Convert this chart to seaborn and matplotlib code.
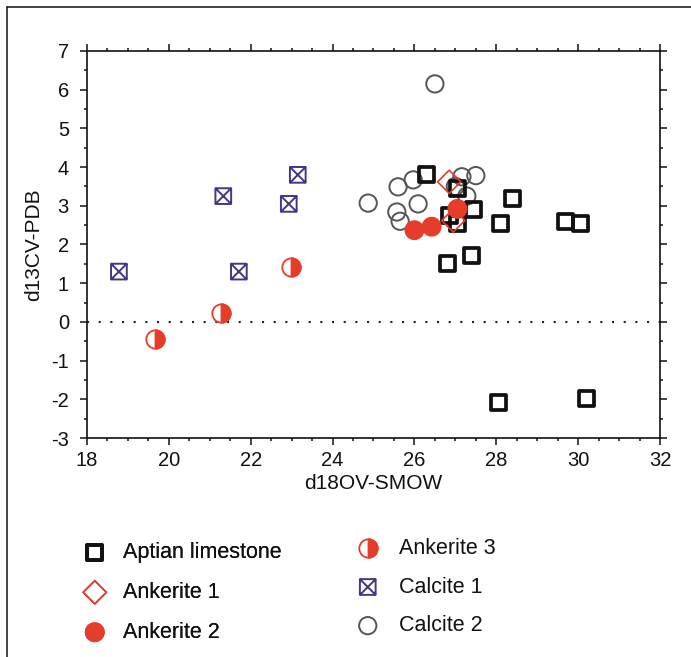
import numpy as np
import pandas as pd
import matplotlib
matplotlib.use("Agg")
import matplotlib.pyplot as plt
import seaborn as sns
from matplotlib.path import Path
from matplotlib.lines import Line2D
from matplotlib.legend_handler import HandlerTuple

# ---- data ----
aptian_x = [26.3, 27.05, 27.45, 26.85, 27.05, 28.4, 28.1, 29.7, 30.05, 26.8, 27.4, 28.05, 30.2]
aptian_y = [3.8, 3.45, 2.9, 2.75, 2.55, 3.2, 2.55, 2.6, 2.55, 1.5, 1.72, -2.08, -1.97]

ank1_x = [26.85, 26.95]
ank1_y = [3.62, 2.62]

ank2_x = [26.0, 26.42, 27.05]
ank2_y = [2.37, 2.46, 2.92]

ank3_x = [19.66, 21.27, 22.98]
ank3_y = [-0.44, 0.24, 1.42]

cal1_x = [18.78, 21.33, 21.71, 22.93, 23.15]
cal1_y = [1.3, 3.25, 1.3, 3.05, 3.8]

cal2_x = [26.5, 24.87, 25.6, 25.97, 25.57, 25.65, 26.09, 27.16, 27.5, 27.28, 27.0]
cal2_y = [6.15, 3.07, 3.49, 3.67, 2.84, 2.6, 3.05, 3.75, 3.78, 3.25, 3.5]

x_ticks = [18, 20, 22, 24, 26, 28, 30, 32]
y_ticks = [-3, -2, -1, 0, 1, 2, 3, 4, 5, 6, 7]
x_label = "d18OV-SMOW"
y_label = "d13CV-PDB"

# ---- style ----
sns.set_theme(style="ticks")
plt.rcParams["font.family"] = ["Liberation Sans", "DejaVu Sans"]
plt.rcParams["axes.unicode_minus"] = False

RED = "#e63c2a"
PURPLE = "#45348a"
GRAY = "#555555"

fig = plt.figure(figsize=(6.91, 6.57), dpi=100)
ax = fig.add_axes([87 / 691, 1 - 438 / 657, (660 - 87) / 691, (438 - 51) / 657])

# custom markers
xbox = Path(
    [(-1, -1), (1, -1), (1, 1), (-1, 1), (-1, -1), (-1, -1), (1, 1), (-1, 1), (1, -1)],
    [Path.MOVETO, Path.LINETO, Path.LINETO, Path.LINETO, Path.CLOSEPOLY,
     Path.MOVETO, Path.LINETO, Path.MOVETO, Path.LINETO],
)
right_half = Path.unit_circle_righthalf()

sns.scatterplot(x=cal2_x, y=cal2_y, ax=ax, marker="o", s=155, facecolor="none",
                edgecolor=GRAY, linewidth=1.4, label="Calcite 2", zorder=3)
sns.scatterplot(x=aptian_x, y=aptian_y, ax=ax, marker="s", s=118, facecolor="none",
                edgecolor="#111111", linewidth=2.7, label="Aptian limestone", zorder=4)
sns.scatterplot(x=ank1_x, y=ank1_y, ax=ax, marker="D", s=140, facecolor="none",
                edgecolor=RED, linewidth=1.2, label="Ankerite 1", zorder=5)
sns.scatterplot(x=ank2_x, y=ank2_y, ax=ax, marker="o", s=205, facecolor=RED,
                edgecolor="none", linewidth=0, label="Ankerite 2", zorder=6)
sns.scatterplot(x=ank3_x, y=ank3_y, ax=ax, marker="o", s=175, facecolor="white",
                edgecolor=RED, linewidth=1.3, label="_a3base", zorder=6)
sns.scatterplot(x=ank3_x, y=ank3_y, ax=ax, marker=right_half, s=175, facecolor=RED,
                edgecolor=RED, linewidth=1.3, label="Ankerite 3", zorder=7)
sns.scatterplot(x=cal1_x, y=cal1_y, ax=ax, marker=xbox, s=128, facecolor="none",
                edgecolor=PURPLE, linewidth=1.4, label="Calcite 1", zorder=6)

ax.axhline(0, color="#222222", linewidth=1.5, linestyle=(0, (1, 4.6)), zorder=2)

ax.set_xlim(18, 32)
ax.set_ylim(-3, 7)
ax.set_xticks(x_ticks)
ax.set_yticks(y_ticks)
ax.set_xticks(np.arange(18, 32.01, 0.5), minor=True)
ax.set_yticks(np.arange(-3, 7.01, 0.5), minor=True)
ax.tick_params(which="both", direction="out", top=True, right=True, color="#111111",
               width=1.1, labelsize=14.5, labelcolor="#111111")
ax.tick_params(which="major", length=5)
ax.tick_params(which="minor", length=2.5)
ax.tick_params(axis="y", pad=8)
ax.tick_params(axis="x", pad=4)
for sp in ax.spines.values():
    sp.set_visible(True)
    sp.set_linewidth(1.2)
    sp.set_color("#111111")

ax.set_xlabel(x_label, fontsize=15, color="#111111", labelpad=3)
ax.set_ylabel(y_label, fontsize=15, color="#111111", labelpad=6)

# ---- legend ----
handles, labels = ax.get_legend_handles_labels()
hmap = dict(zip(labels, handles))
a3_base = [h for h in ax.collections if h.get_label() == "_a3base"][0]
if ax.get_legend():
    ax.get_legend().remove()

fs = 15.5
leg1 = fig.legend([hmap["Aptian limestone"], hmap["Ankerite 1"], hmap["Ankerite 2"]],
                  ["Aptian limestone", "Ankerite 1", "Ankerite 2"],
                  loc="upper left", bbox_to_anchor=(84 / 691, 1 - 542 / 657),
                  frameon=False, fontsize=fs, handlelength=1.0, handletextpad=0.8,
                  labelspacing=0.88, borderpad=0, borderaxespad=0, scatterpoints=1)
fig.add_artist(leg1)
leg2 = fig.legend([(a3_base, hmap["Ankerite 3"]), hmap["Calcite 1"], hmap["Calcite 2"]],
                  ["Ankerite 3", "Calcite 1", "Calcite 2"],
                  loc="upper left", bbox_to_anchor=(357 / 691, 1 - 538 / 657),
                  frameon=False, fontsize=fs, handlelength=1.0, handletextpad=0.95,
                  labelspacing=0.82, borderpad=0, borderaxespad=0, scatterpoints=1,
                  handler_map={tuple: HandlerTuple(ndivide=1, pad=0)})
for lg in (leg1, leg2):
    for t in lg.get_texts():
        t.set_color("#111111")

# outer frame lines (left and top)
fig.add_artist(Line2D([7 / 691, 7 / 691], [0, 1 - 7 / 657], transform=fig.transFigure,
                      color="#111111", linewidth=1.1))
fig.add_artist(Line2D([7 / 691, 1], [1 - 7 / 657, 1 - 7 / 657], transform=fig.transFigure,
                      color="#111111", linewidth=1.1))

fig.savefig("out.png", dpi=100)
